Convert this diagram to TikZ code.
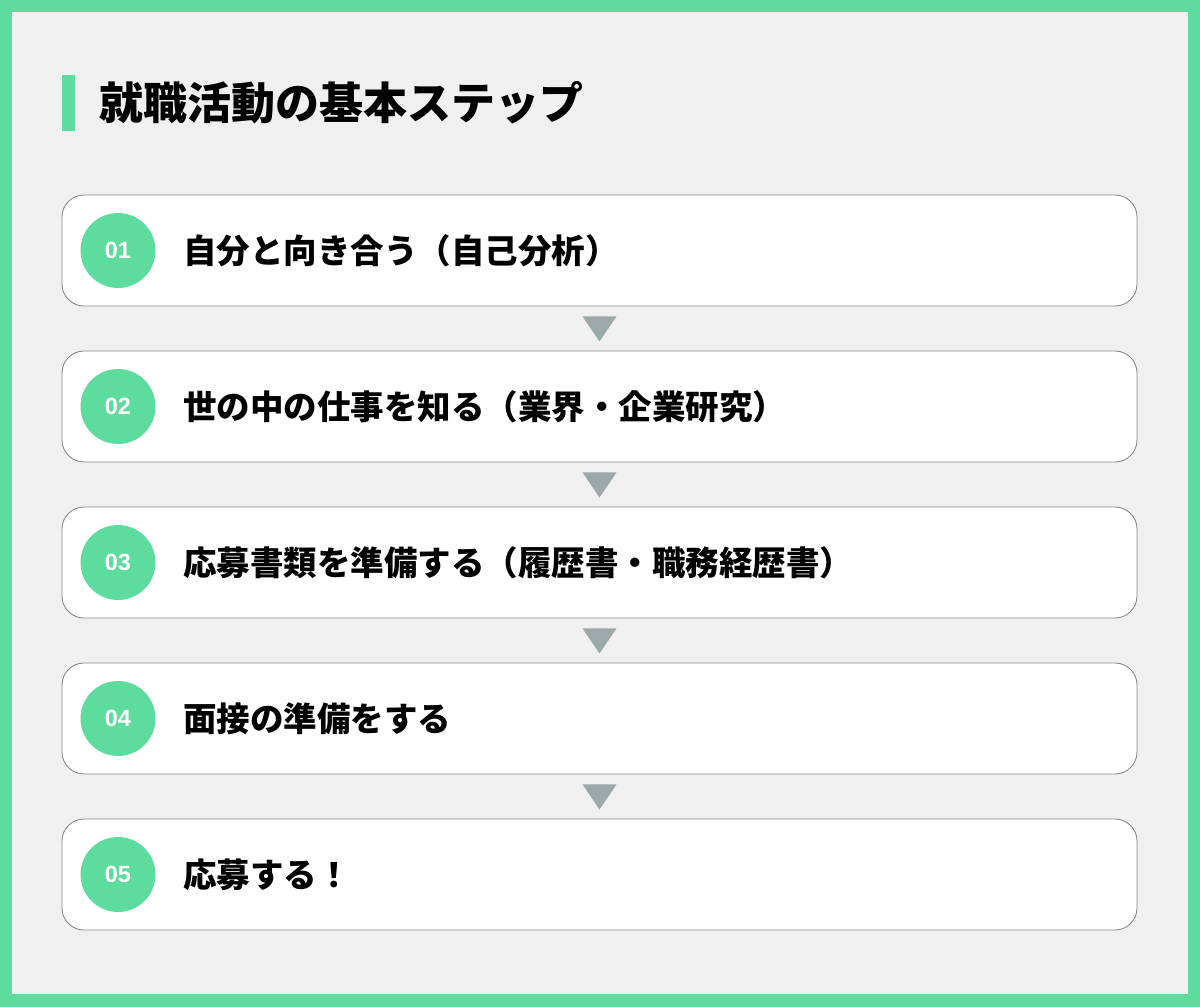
\documentclass[tikz,border=0pt]{standalone}
\usepackage{fontspec}
\newfontfamily\jp{Noto Sans CJK JP}
\newfontfamily\numfont{Liberation Sans}
\usetikzlibrary{calc}
\definecolor{mint}{HTML}{5DDC9E}
\definecolor{panel}{HTML}{F0F0F0}
\definecolor{tri}{HTML}{9DA8A8}
\definecolor{edge}{HTML}{8A8A8A}
\tikzset{
  stepbox/.style={draw=edge, line width=0.9pt, fill=white, rounded corners=22pt,
    minimum width=1075pt, minimum height=111pt, inner sep=0pt},
  numdisc/.style={circle, fill=mint, minimum size=75pt, inner sep=0pt,
    text=white, font=\numfont\bfseries\fontsize{23.5}{26}\selectfont},
  steptext/.style={anchor=west, inner sep=0pt, text=black,
    font=\jp\bfseries\fontsize{33.5}{40}\selectfont},
  downtri/.style={fill=tri}
}
\begin{document}
\begin{tikzpicture}[x=1pt,y=-1pt]
\useasboundingbox (0,0) rectangle (1200,1007);
\fill[mint] (0,0) rectangle (1200,1007);
\fill[panel] (12,12) rectangle (1188,994);
% title
\fill[mint] (62,75) rectangle (75,131);
\node[anchor=west, inner sep=0pt, font=\jp\bfseries\fontsize{44}{52}\selectfont] (title) at (99,103) {就職活動の基本ステップ};
% steps
\foreach \i/\y/\txt in {1/250.5/自分と向き合う（自己分析）,
                        2/406.5/世の中の仕事を知る（業界・企業研究）,
                        3/562.5/応募書類を準備する（履歴書・職務経歴書）,
                        4/718.5/面接の準備をする,
                        5/874.5/応募する！}{
  \node[stepbox] (s\i) at (599.5,\y) {};
  \node[numdisc] (c\i) at (118,\y) {0\i};
  \node[steptext] (t\i) at (183,\y) {\txt};
}
\foreach \a/\b in {1/2,2/3,3/4,4/5}{
  \fill[downtri] ($(s\a.south)+(-17,10)$) -- ($(s\a.south)+(17,10)$) -- ($(s\a.south)+(0,35)$) -- cycle;
}
\end{tikzpicture}
\end{document}
